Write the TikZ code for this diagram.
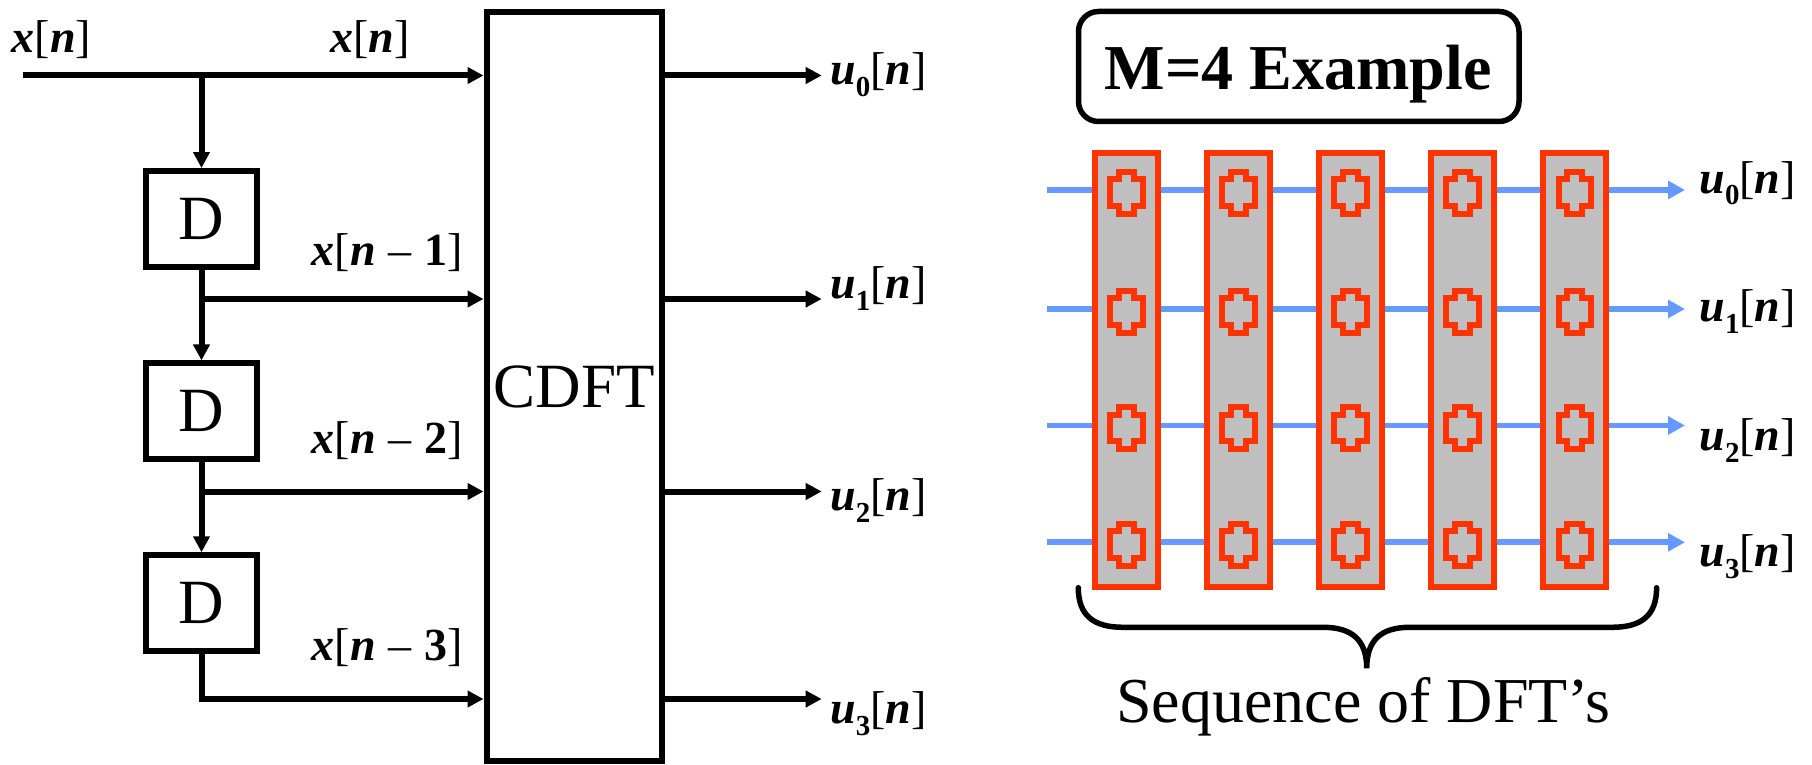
\documentclass[tikz,border=0pt]{standalone}
\usepackage{fontspec}
\setmainfont{Liberation Serif}
\usetikzlibrary{arrows.meta}
\definecolor{cellred}{RGB}{255,51,0}
\definecolor{wireblue}{RGB}{102,153,255}
\definecolor{cellgray}{RGB}{191,191,191}
\newcommand\bi[1]{{\bfseries\itshape #1}}
\newcommand\usub[1]{\raisebox{-12pt}{\fontsize{29}{29}\selectfont\bfseries #1}}
\newcommand\sgl{\fontsize{46}{50}\selectfont}
\newcommand\gap{\hspace{0.28em}}
\tikzset{
  dftcell/.pic={\draw[cellred,line width=6pt] (-7.6,-21) -- (7.6,-21) -- (7.6,-13.4) -- (16.2,-13.4) -- (16.2,13.4) -- (7.6,13.4) -- (7.6,21) -- (-7.6,21) -- (-7.6,13.4) -- (-16.2,13.4) -- (-16.2,-13.4) -- (-7.6,-13.4) -- cycle;}
}
\begin{document}
\begin{tikzpicture}[x=1pt,y=-1pt,
  wire/.style={line width=6pt},
  arr/.style={wire,-{Triangle[length=16pt,width=16pt]}},
  barr/.style={line width=5.8pt,wireblue,-{Triangle[length=17pt,width=17.5pt]}},
  dbox/.style={draw,line width=6pt,minimum width=111pt,minimum height=95.5pt,inner sep=0pt,font=\fontsize{63}{63}\selectfont},
  lbl/.style={anchor=base west,inner sep=0pt,font=\sgl},
  col/.style={draw=cellred,fill=cellgray,line width=6pt,minimum width=63.3pt,minimum height=434pt,inner sep=0pt},
  txt/.style={anchor=base,inner sep=0pt}]
\useasboundingbox[fill=white] (0,0) rectangle (1812,765);

% ---------- left: delay line and CDFT ----------
\node[draw,line width=6pt,minimum width=175.5pt,minimum height=748.5pt,inner sep=0pt,font=\fontsize{63}{63}\selectfont] (cdft) at (574.25,386.75) {CDFT};

\coordinate (xin) at (22.7,75.5);
\coordinate (b0) at (201.5,75.5);
\node[dbox] (d1) at (201.5,218.8) {D};
\node[dbox] (d2) at (201.5,411.2) {D};
\node[dbox] (d3) at (201.5,603) {D};
\coordinate (b1) at (201.5,299);
\coordinate (b2) at (201.5,491.5);
\coordinate (b3) at (201.5,699);

\draw[arr] (xin) -- (xin -| cdft.west);
\draw[arr] (b0) -- (d1.north);
\draw[arr] (d1.south) -- (d2.north);
\draw[arr] (b1) -- (b1 -| cdft.west);
\draw[arr] (d2.south) -- (d3.north);
\draw[arr] (b2) -- (b2 -| cdft.west);
\draw[arr] (d3.south) -- (b3) -- (b3 -| cdft.west);

\coordinate (o0) at (821.7,75.5);
\coordinate (o1) at (821.7,299);
\coordinate (o2) at (821.7,491.5);
\coordinate (o3) at (821.7,699);
\draw[arr] (o0 -| cdft.east) -- (o0);
\draw[arr] (o1 -| cdft.east) -- (o1);
\draw[arr] (o2 -| cdft.east) -- (o2);
\draw[arr] (o3 -| cdft.east) -- (o3);

\node[lbl] (lxin) at (11.7,53) {\bi{x}[\bi{n}]};
\node[lbl] (lx0) at (330,53) {\bi{x}[\bi{n}]};
\node[lbl] (lx1) at (311.7,265.7) {\bi{x}[\bi{n}\gap–\gap\textbf{1}]};
\node[lbl] (lx2) at (311.7,453.3) {\bi{x}[\bi{n}\gap–\gap\textbf{2}]};
\node[lbl] (lx3) at (311.7,660.7) {\bi{x}[\bi{n}\gap–\gap\textbf{3}]};

\node[lbl] (lu0) at (830,85) {\bi{u}\usub{0}[\bi{n}]};
\node[lbl] (lu1) at (830,298.3) {\bi{u}\usub{1}[\bi{n}]};
\node[lbl] (lu2) at (830,510) {\bi{u}\usub{2}[\bi{n}]};
\node[lbl] (lu3) at (830,723.3) {\bi{u}\usub{3}[\bi{n}]};

% ---------- right: M=4 example ----------
\node[draw,line width=5.5pt,rounded corners=20pt,minimum width=440.5pt,minimum height=110pt,inner sep=0pt] (mbox) at (1298.75,66.5) {};
\node[txt,font=\fontsize{64}{64}\selectfont\bfseries] (mtxt) at (1298.2,90) {M=4 Example};

\foreach \r/\y in {0/190,1/309,2/425.5,3/542.3}{
  \coordinate (s\r) at (1046.7,\y);
  \coordinate (e\r) at (1685,\y);
  \draw[barr] (s\r) -- (e\r);
}
\foreach \i in {0,...,4}{
  \node[col] (c\i) at ({1126.3+112.1*\i},370) {};
  \foreach \y in {192.5,311.5,428,544.8}
    \pic at ({1126.3+112.1*\i},\y) {dftcell};
}

\node[lbl] (v0) at (1699.3,193) {\bi{u}\usub{0}[\bi{n}]};
\node[lbl] (v1) at (1699.3,321.7) {\bi{u}\usub{1}[\bi{n}]};
\node[lbl] (v2) at (1699.3,450) {\bi{u}\usub{2}[\bi{n}]};
\node[lbl] (v3) at (1699.3,566.7) {\bi{u}\usub{3}[\bi{n}]};

\draw[line width=5.5pt,line cap=round] (1078.3,587.7) .. controls (1078.3,615) and (1093,627.3) .. (1123,627.3) -- (1323,627.3) .. controls (1352,627.3) and (1366.7,640) .. (1366.7,668.3) .. controls (1366.7,640) and (1381,627.3) .. (1410,627.3) -- (1612,627.3) .. controls (1642,627.3) and (1656.6,615) .. (1656.6,587.7);

\node[txt,font=\fontsize{64}{64}\selectfont] (seq) at (1363.3,722.7) {Sequence of DFT’s};
\end{tikzpicture}
\end{document}
